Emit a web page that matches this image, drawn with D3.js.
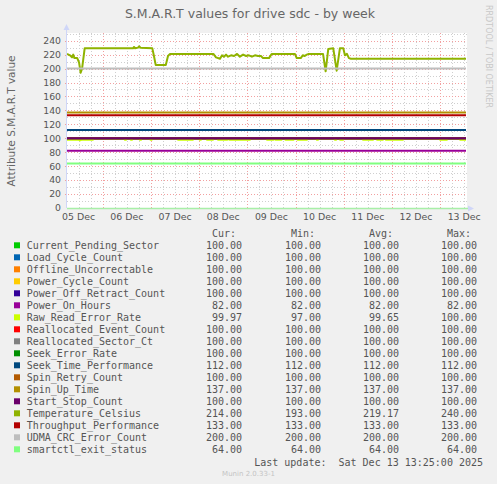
<!DOCTYPE html>
<html><head><meta charset="utf-8">
<script src="https://cdn.jsdelivr.net/npm/d3@7"></script>
<style>
body{margin:0;background:#F0F0F0;overflow:hidden;}
text{font-family:"DejaVu Sans",sans-serif;}
</style>
</head><body>
<svg id="c" width="497" height="484"></svg>
<script>
// ---------- data ----------
const chartTitle = "S.M.A.R.T values for drive sdc - by week";
const yAxisLabel = "Attribute S.M.A.R.T value";
const watermark = "RRDTOOL / TOBI OETIKER";
const lastUpdate = "Last update:  Sat Dec 13 13:25:00 2025";
const versionText = "Munin 2.0.33-1";
const legendHeaders = ["Cur:", "Min:", "Avg:", "Max:"];

const seriesNames = ["Current_Pending_Sector","Load_Cycle_Count","Offline_Uncorrectable","Power_Cycle_Count",
  "Power_Off_Retract_Count","Power_On_Hours","Raw_Read_Error_Rate","Reallocated_Event_Count",
  "Reallocated_Sector_Ct","Seek_Error_Rate","Seek_Time_Performance","Spin_Retry_Count","Spin_Up_Time",
  "Start_Stop_Count","Temperature_Celsius","Throughput_Performance","UDMA_CRC_Error_Count","smartctl_exit_status"];
const seriesColors = ["#00CC00","#0066B3","#FF8000","#FFCC00","#330099","#990099","#CCFF00","#FF0000",
  "#808080","#008F00","#00487D","#B35A00","#B38F00","#6B006B","#8FB300","#B30000","#BEBEBE","#80FF80"];
const curValues = [100,100,100,100,100,82,99.97,100,100,100,112,100,137,100,214,133,200,64];
const minValues = [100,100,100,100,100,82,97,100,100,100,112,100,137,100,193,133,200,64];
const avgValues = [100,100,100,100,100,82,99.65,100,100,100,112,100,137,100,219.17,133,200,64];
const maxValues = [100,100,100,100,100,82,100,100,100,100,112,100,137,100,240,133,200,64];

const yTicks = [0,20,40,60,80,100,120,140,160,180,200,220,240];
const yMinorTicks = [10,30,50,70,90,110,130,150,170,190,210,230,250];
const yMax = 251;

// time: hours since 2025-12-05 00:00 UTC
const baseTime = Date.UTC(2025, 11, 5, 0, 0);
const viewStartH = 6.2, viewEndH = 205.4;
const dataStartH = 6.2, dataEndH = 204.9;
const dayLabels = ["05 Dec","06 Dec","07 Dec","08 Dec","09 Dec","10 Dec","11 Dec","12 Dec","13 Dec"];

// Temperature_Celsius [hour, value]
const temperatureSeries = [
 [6.2,221],[7.7,219],[8.7,216],[9.3,220],[9.9,215],[11.3,215],[12.2,209],[13.0,194],[13.7,200],[15.0,229],
 [39.1,229],[39.6,231],[40.1,229],[41.6,230],[42.1,232],[42.8,230],[48.7,229],[49.5,218],[50.4,205],
 [55.4,205],[56.5,218],[57.5,221],[79.1,221],[80.4,216],[82.4,214],[83.4,219],[84.4,217],[85.4,220],
 [86.4,217],[87.9,219],[89.4,218],[90.9,221],[92.3,217],[93.9,220],[95.4,218],[96.8,219],[98.3,217],
 [99.8,219],[101.3,218],[102.8,218],[103.8,215],[106.8,215],[108.1,221],[119.7,221],[120.6,215],
 [122.6,215],[123.6,219],[124.6,218],[125.6,220],[126.6,221],[133.7,221],[135.0,196],[136.3,228],
 [138.8,229],[140.5,197],[142.1,229],[143.8,229],[144.6,219],[145.6,221],[146.6,215],[147.6,214],
 [204.9,214]
];
// Raw_Read_Error_Rate [hour, value] (step)
const rawReadSeries = [
 [6.2,98],[12.4,97],[13.0,98],[19.1,100],[35.0,98],[35.6,100],[38.0,98],[38.6,100],
 [42.5,98],[43.1,100],[47.8,98],[48.4,100],[61.5,98],[68.9,100],[72.3,98],[72.9,100],
 [75.9,98],[78.9,100],[81.4,98],[86.0,100],[87.0,98],[97.3,100],[105.8,98],[109.0,100],
 [110.0,98],[113.0,100],[115.0,98],[119.0,100],[121.0,98],[125.7,100],[130.6,98],[131.2,100],
 [139.6,98],[140.2,100],[142.2,98],[143.7,100],[153.6,98],[158.6,100],[160.6,98],[163.5,100],
 [165.0,98],[173.5,100],[192.0,98],[195.4,100],[202.0,98],[204.9,98]
];

// ---------- drawing ----------
const svg = d3.select("#c");
const H = h => new Date(baseTime + h * 3600000);
const plot = {left: 67, right: 467, top: 33, bottom: 208};

const x = d3.scaleUtc().domain([H(viewStartH), H(viewEndH)]).range([plot.left, plot.right]);
const y = d3.scaleLinear().domain([0, yMax]).range([plot.bottom, plot.top]);

svg.append("rect").attr("width", 497).attr("height", 484).attr("fill", "#F0F0F0");
svg.append("rect").attr("x", plot.left).attr("y", plot.top)
  .attr("width", plot.right - plot.left).attr("height", plot.bottom - plot.top).attr("fill", "#FFFFFF");

// grid
const g = svg.append("g").attr("shape-rendering", "crispEdges");
const minorTimes = d3.utcHour.every(6).range(H(viewStartH), H(viewEndH)).filter(d => d.getUTCHours() !== 0);
const majorTimes = d3.utcDay.range(H(viewStartH), H(viewEndH));
g.selectAll(".vmin").data(minorTimes).join("line")
  .attr("x1", d => Math.round(x(d)) + 0.5).attr("x2", d => Math.round(x(d)) + 0.5)
  .attr("y1", plot.top).attr("y2", plot.bottom)
  .attr("stroke", "#CFCFCF").attr("stroke-dasharray", "1,2");
g.selectAll(".hmin").data(yMinorTicks).join("line")
  .attr("x1", plot.left).attr("x2", plot.right)
  .attr("y1", d => Math.round(y(d)) + 0.5).attr("y2", d => Math.round(y(d)) + 0.5)
  .attr("stroke", "#CFCFCF").attr("stroke-dasharray", "1,2");
g.selectAll(".vmaj").data(majorTimes).join("line")
  .attr("x1", d => Math.round(x(d)) + 0.5).attr("x2", d => Math.round(x(d)) + 0.5)
  .attr("y1", plot.top).attr("y2", plot.bottom + 2)
  .attr("stroke", "#F2A0A0").attr("stroke-dasharray", "1,2");
g.selectAll(".hmaj").data(yTicks.filter(v => v > 0)).join("line")
  .attr("x1", plot.left - 2).attr("x2", plot.right)
  .attr("y1", d => Math.round(y(d)) + 0.5).attr("y2", d => Math.round(y(d)) + 0.5)
  .attr("stroke", "#F2A0A0").attr("stroke-dasharray", "1,2");

// series
const line = d3.line().x(d => x(H(d[0]))).y(d => y(d[1]));
const stepLine = d3.line().x(d => x(H(d[0]))).y(d => y(d[1])).curve(d3.curveStepAfter);
const seriesData = seriesNames.map((n, i) => {
  if (n === "Temperature_Celsius") return {d: temperatureSeries, gen: line};
  if (n === "Raw_Read_Error_Rate") return {d: rawReadSeries, gen: stepLine};
  return {d: [[dataStartH, curValues[i]], [dataEndH, curValues[i]]], gen: line};
});
seriesData.forEach((s, i) => {
  svg.append("path").attr("d", s.gen(s.d)).attr("fill", "none")
    .attr("stroke", seriesColors[i]).attr("stroke-width", 2).attr("stroke-linejoin", "round");
});

// axes
const axisColor = "#CFD6F8";
svg.append("line").attr("x1", plot.left - 0.5).attr("x2", plot.left - 0.5)
  .attr("y1", plot.bottom).attr("y2", plot.top - 4).attr("stroke", axisColor);
svg.append("line").attr("x1", plot.left).attr("x2", plot.right + 3)
  .attr("y1", plot.bottom + 0.5).attr("y2", plot.bottom + 0.5).attr("stroke", "#A8EFA8").attr("stroke-width", 1.5);
svg.append("path").attr("d", `M${plot.left-3.5},${plot.top-3} L${plot.left+2.5},${plot.top-3} L${plot.left-0.5},${plot.top-9} Z`).attr("fill", axisColor);
svg.append("path").attr("d", `M${plot.right+1},${plot.bottom-2.5} L${plot.right+1},${plot.bottom+3.5} L${plot.right+7},${plot.bottom+0.5} Z`).attr("fill", axisColor);

// y tick labels
svg.selectAll(".yl").data(yTicks).join("text")
  .attr("x", 61).attr("y", d => y(d)).attr("dy", "0.36em")
  .attr("text-anchor", "end").attr("font-size", 9.3).attr("fill", "#555").text(d => d);
// x tick labels (centered at noon)
const labelTimes = d3.utcDay.range(H(0), H(viewEndH)).map(d => new Date(+d + 12 * 3600000));
svg.selectAll(".xl").data(labelTimes).join("text")
  .attr("x", d => x(d)).attr("y", 220)
  .attr("text-anchor", "middle").attr("font-size", 9.4).attr("fill", "#555")
  .text((d, i) => dayLabels[i]);

// title and labels
svg.append("text").attr("x", 250).attr("y", 17.5).attr("text-anchor", "middle")
  .attr("font-size", 12.5).attr("fill", "#666").text(chartTitle);
svg.append("text").attr("transform", "translate(15,121) rotate(-90)").attr("text-anchor", "middle")
  .attr("font-size", 10.5).attr("fill", "#666").text(yAxisLabel);
svg.append("text").attr("transform", "translate(486,5) rotate(90)").attr("text-anchor", "start")
  .attr("font-size", 8).attr("fill", "#C8C8C8").text(watermark);

// legend
const mono = "'DejaVu Sans Mono', monospace";
const colEnds = [242, 321, 399, 477];
const leg = svg.append("g").attr("font-family", mono).attr("font-size", 10).attr("fill", "#555");
legendHeaders.forEach((h, j) => {
  leg.append("text").attr("x", colEnds[j] - 6).attr("y", 237.3).attr("text-anchor", "end")
    .style("font-family", mono).text(h);
});
const cols = [curValues, minValues, avgValues, maxValues];
seriesNames.forEach((n, i) => {
  const by = 249.3 + 12 * i;
  svg.append("rect").attr("x", 14).attr("y", by - 7).attr("width", 6).attr("height", 6)
    .attr("fill", seriesColors[i]);
  leg.append("text").attr("x", 26.7).attr("y", by).style("font-family", mono).text(n);
  cols.forEach((c, j) => {
    leg.append("text").attr("x", colEnds[j]).attr("y", by).attr("text-anchor", "end")
      .style("font-family", mono).text(c[i].toFixed(2));
  });
});
leg.append("text").attr("x", 483).attr("y", 465.5).attr("text-anchor", "end")
  .style("font-family", mono).style("white-space", "pre").attr("xml:space", "preserve").text(lastUpdate);
svg.append("text").attr("x", 248.5).attr("y", 476).attr("text-anchor", "middle")
  .attr("font-size", 7).attr("fill", "#C4C4C4").text(versionText);
</script>
</body></html>
